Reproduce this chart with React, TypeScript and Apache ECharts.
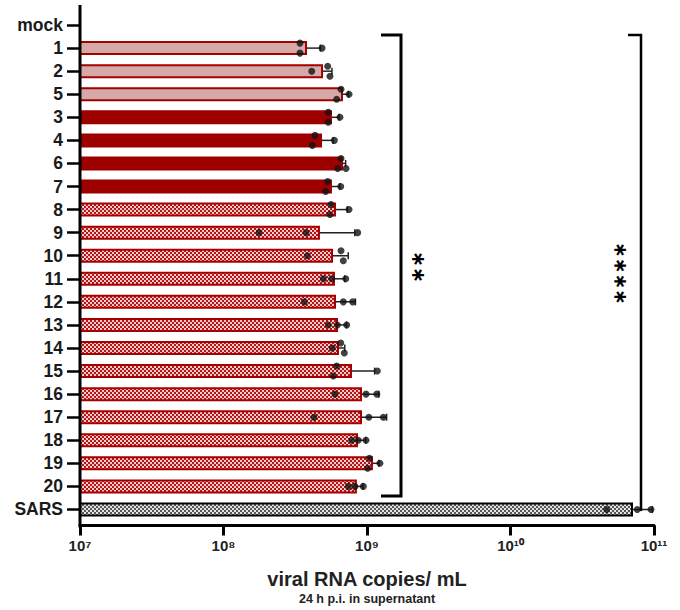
import React, { useEffect, useRef } from "react";
import * as echarts from "echarts";

const categories = ["mock", "1", "2", "5", "3", "4", "6", "7", "8", "9", "10", "11", "12", "13", "14", "15", "16", "17", "18", "19", "20", "SARS"];

const barMeans = [null, 3.82e8, 4.94e8, 6.8e8, 5.7e8, 4.86e8, 6.8e8, 5.7e8, 6.08e8, 4.7e8, 5.8e8, 5.98e8, 6.08e8, 6.28e8, 6.38e8, 7.86e8, 9.23e8, 9.23e8, 8.66e8, 1.1e9, 8.5e8, 7.14e10];
const errLow = [null, 3.05e8, 4.2e8, 6.06e8, 5.1e8, 4.0e8, 6.2e8, 4.9e8, 5.1e8, 1.19e8, 4.0e8, 4.8e8, 3.9e8, 5.35e8, 5.8e8, 4.58e8, 6.25e8, 4.75e8, 7.77e8, 9.7e8, 7.35e8, 4.85e10];
const errHigh = [null, 4.73e8, 5.7e8, 7.42e8, 6.38e8, 5.8e8, 7.1e8, 6.45e8, 7.3e8, 8.23e8, 7.4e8, 7.0e8, 8.3e8, 7.2e8, 7.0e8, 1.13e9, 1.21e9, 1.37e9, 9.8e8, 1.21e9, 9.37e8, 9.73e10];

const replicates = [
  [],
  [3.41e8, 3.41e8, 4.86e8],
  [5.32e8, 5.52e8, 4.12e8],
  [6.59e8, 6.15e8, 7.49e8],
  [5.37e8, 5.37e8, 6.48e8],
  [4.34e8, 4.16e8, 5.92e8],
  [6.59e8, 6.25e8, 7.14e8],
  [5.32e8, 5.15e8, 6.56e8],
  [5.61e8, 5.52e8, 7.49e8],
  [1.77e8, 3.76e8, 8.61e8],
  [6.59e8, 6.84e8, 3.84e8],
  [4.96e8, 5.68e8, 7.11e8],
  [3.66e8, 6.84e8, 7.95e8],
  [5.37e8, 6.21e8, 7.22e8],
  [6.56e8, 5.73e8, 6.95e8],
  [6.15e8, 5.82e8, 1.18e9],
  [5.98e8, 9.84e8, 1.17e9],
  [4.27e8, 1.03e9, 1.3e9],
  [7.82e8, 8.69e8, 9.84e8],
  [1.04e9, 1.01e9, 1.23e9],
  [7.41e8, 8.24e8, 9.42e8],
  [4.68e10, 7.65e10, 9.53e10],
];
// -1 = drawn above the row centre, 1 = below, 0 = on it
const replicateSide = [
  [], [-1, 1, 0], [-1, 1, 0], [-1, 1, 0], [-1, 1, 0], [-1, 1, 0], [-1, 1, 1], [-1, 1, 0], [-1, 1, 0],
  [0, 0, 0], [-1, 1, 0], [0, 0, 0], [0, 0, 0], [0, 0, 0], [-1, 0, 1], [-1, 1, 0], [0, 0, 0], [0, 0, 0],
  [0, 0, 0], [-1, 1, 0], [0, 0, 0], [0, 0, 0],
];
const fillKind = ["none", "light", "light", "light", "solid", "solid", "solid", "solid",
  "check", "check", "check", "check", "check", "check", "check", "check", "check", "check", "check", "check", "check", "gray"];

const xTickExponents = [7, 8, 9, 10, 11];
const superDigits: Record<string, string> = { "0": "⁰", "1": "¹", "2": "²", "3": "³", "4": "⁴", "5": "⁵", "6": "⁶", "7": "⁷", "8": "⁸", "9": "⁹" };
const significanceLeft = "∗∗";
const significanceRight = "∗∗∗∗";

const FONT = "'Liberation Sans', Arial, sans-serif";

function makeCheck(c1: string, c2: string) {
  const cv = document.createElement("canvas");
  cv.width = 4;
  cv.height = 4;
  const ctx = cv.getContext("2d")!;
  ctx.fillStyle = c1;
  ctx.fillRect(0, 0, 4, 4);
  ctx.fillStyle = c2;
  ctx.fillRect(0, 0, 2, 2);
  ctx.fillRect(2, 2, 2, 2);
  return { image: cv, repeat: "repeat", imageWidth: 4, imageHeight: 4 };
}

export default function App() {
  const ref = useRef<HTMLDivElement>(null);
  useEffect(() => {
    if (!ref.current) return;
    document.body.style.margin = "0";
    const chart = echarts.init(ref.current, null, { renderer: "svg" });
    const redCheck = makeCheck("#b51515", "#f2cccc");
    const grayCheck = makeCheck("#555555", "#e4e4e4");
    const styleFor = (k: string) => {
      if (k === "light") return { color: "#d6a9a9", borderColor: "#a30000", borderWidth: 2 };
      if (k === "solid") return { color: "#9e0000", borderColor: "#9e0000", borderWidth: 2 };
      if (k === "check") return { color: redCheck, borderColor: "#a80000", borderWidth: 2 };
      if (k === "gray") return { color: grayCheck, borderColor: "#000", borderWidth: 2 };
      return {};
    };
    const barData = barMeans.map((v, i) => ({ value: v == null ? "-" : v, itemStyle: styleFor(fillKind[i]) }));
    const errData: any[] = [];
    errLow.forEach((lo, i) => {
      if (lo != null) errData.push([lo, i, errHigh[i]]);
    });
    const dotData: any[] = [];
    replicates.forEach((arr, i) => {
      arr.forEach((v, j) => {
        dotData.push({ value: [v, i], symbolOffset: [0, replicateSide[i][j] * 5] });
      });
    });
    const expLabel = (v: number) => {
      const e = String(Math.round(Math.log10(v)));
      return "10" + e.split("").map((d) => superDigits[d]).join("");
    };

    const option: any = {
      animation: false,
      grid: { left: 80, right: 26, top: 13.5, height: 508 },
      xAxis: {
        type: "log",
        logBase: 10,
        min: Math.pow(10, xTickExponents[0]),
        max: Math.pow(10, xTickExponents[xTickExponents.length - 1]),
        offset: 4.5,
        axisLine: { show: true, lineStyle: { color: "#000", width: 3 } },
        axisTick: { show: true, length: 10, lineStyle: { color: "#000", width: 3 } },
        minorTick: { show: false },
        splitLine: { show: false },
        axisLabel: {
          margin: 12,
          fontSize: 15,
          fontWeight: "bold",
          fontFamily: FONT,
          color: "#222",
          hideOverlap: false,
          showMinLabel: true,
          showMaxLabel: true,
          formatter: expLabel,
        },
        name: "{t|viral RNA copies/ mL}\n{u|24 h p.i. in supernatant}",
        nameLocation: "middle",
        nameGap: 41,
        nameTextStyle: {
          rich: {
            t: { fontSize: 20, fontWeight: "bold", fontFamily: FONT, color: "#222", lineHeight: 24, align: "center" },
            u: { fontSize: 12.5, fontWeight: "bold", fontFamily: FONT, color: "#222", lineHeight: 16, align: "center" },
          },
        },
      },
      yAxis: {
        type: "category",
        inverse: true,
        data: categories,
        axisLine: { show: false },
        axisTick: { show: true, alignWithLabel: true, interval: 0, length: 13, lineStyle: { color: "#000", width: 2.5 } },
        axisLabel: { interval: 0, margin: 17, fontSize: 17.5, fontWeight: "bold", fontFamily: FONT, color: "#1a1a1a" },
        splitLine: { show: false },
      },
      graphic: [
        { type: "line", z: 100, shape: { x1: 80, y1: 5, x2: 80, y2: 527.5 }, style: { stroke: "#000", lineWidth: 3 } },
        { type: "polyline", z: 100, shape: { points: [[381, 35], [401, 35], [401, 496], [381, 496]] }, style: { stroke: "#000", lineWidth: 3, fill: null } },
        { type: "polyline", z: 100, shape: { points: [[628, 35], [641, 35], [641, 511]] }, style: { stroke: "#000", lineWidth: 2.5, fill: null } },
        { type: "text", z: 100, x: 417, y: 267, rotation: Math.PI / 2, style: { text: significanceLeft, font: "bold 19px 'DejaVu Sans'", align: "center", verticalAlign: "middle", fill: "#000" } },
        { type: "text", z: 100, x: 619, y: 273.5, rotation: Math.PI / 2, style: { text: significanceRight, font: "bold 18.7px 'DejaVu Sans'", align: "center", verticalAlign: "middle", fill: "#000" } },
      ],
      series: [
        { type: "bar", data: barData, barWidth: 14, clip: true },
        {
          type: "custom",
          data: errData,
          encode: { x: [0, 2], y: 1 },
          renderItem: (params: any, api: any) => {
            const lo = api.coord([api.value(0), api.value(1)]);
            const hi = api.coord([api.value(2), api.value(1)]);
            const st = { stroke: "#222", lineWidth: 1.5 };
            const cap = 3.5;
            return {
              type: "group",
              children: [
                { type: "line", shape: { x1: lo[0], y1: lo[1], x2: hi[0], y2: hi[1] }, style: st },
                { type: "line", shape: { x1: lo[0], y1: lo[1] - cap, x2: lo[0], y2: lo[1] + cap }, style: st },
                { type: "line", shape: { x1: hi[0], y1: hi[1] - cap, x2: hi[0], y2: hi[1] + cap }, style: st },
              ],
            };
          },
        },
        { type: "scatter", data: dotData, symbol: "circle", symbolSize: 7, itemStyle: { color: "#111" } },
      ],
    };
    chart.setOption(option);
    return () => chart.dispose();
  }, []);
  return <div ref={ref} style={{ width: 680, height: 610 }} />;
}
